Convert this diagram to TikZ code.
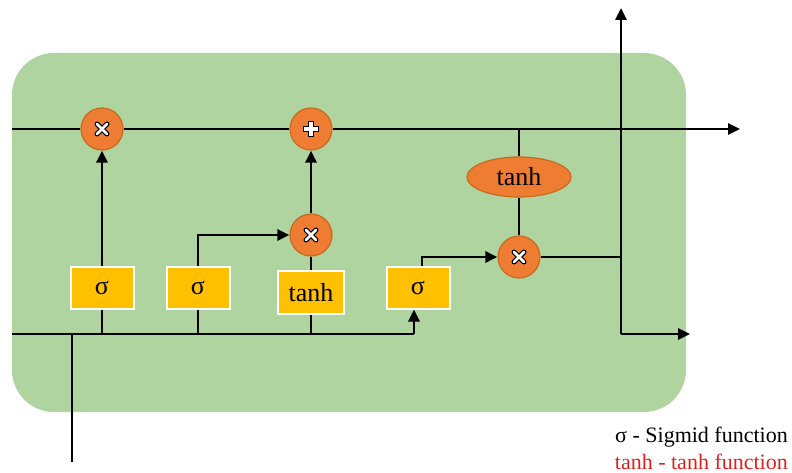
\documentclass[tikz,border=0pt]{standalone}
\usepackage{fontspec}
\setmainfont{Liberation Serif}
\usetikzlibrary{arrows.meta,shapes.geometric}
\definecolor{cellgreen}{HTML}{B0D4A0}
\definecolor{oporange}{HTML}{EE7D33}
\definecolor{opborder}{HTML}{C8691E}
\definecolor{gateyellow}{HTML}{FFC000}
\definecolor{legendred}{HTML}{E0201E}
\tikzset{
  wire/.style={line width=2.8pt,black},
  arr/.style={wire,-{Triangle[length=12pt,width=11pt]}},
  gatebox/.style={draw=white,line width=2pt,fill=gateyellow,minimum width=63pt,minimum height=42pt,inner sep=0pt,font=\fontsize{26}{28}\selectfont},
  opcirc/.style={circle,fill=oporange,draw=opborder,line width=1.2pt,minimum size=42pt,inner sep=0pt},
  opell/.style={ellipse,fill=oporange,draw=opborder,line width=1.2pt,minimum width=104pt,minimum height=40pt,inner sep=0pt,font=\fontsize{26}{28}\selectfont},
  legend/.style={anchor=east,inner sep=0pt,font=\fontsize{22}{24}\selectfont}
}
\newcommand{\timesmark}[1]{%
  \draw[black,line width=5pt,line cap=round] ([shift={(-5,-5)}]#1.center) -- ([shift={(5,5)}]#1.center) ([shift={(-5,5)}]#1.center) -- ([shift={(5,-5)}]#1.center);
  \draw[white,line width=2.8pt,line cap=round] ([shift={(-5,-5)}]#1.center) -- ([shift={(5,5)}]#1.center) ([shift={(-5,5)}]#1.center) -- ([shift={(5,-5)}]#1.center);}
\newcommand{\plusmark}[1]{%
  \draw[black,line width=5.4pt] ([shift={(-8,0)}]#1.center) -- ([shift={(8,0)}]#1.center) ([shift={(0,-8)}]#1.center) -- ([shift={(0,8)}]#1.center);
  \draw[white,line width=3.2pt] ([shift={(-6.9,0)}]#1.center) -- ([shift={(6.9,0)}]#1.center) ([shift={(0,-6.9)}]#1.center) -- ([shift={(0,6.9)}]#1.center);}
\begin{document}
\begin{tikzpicture}[x=1pt,y=-1pt]
\useasboundingbox (0,0) rectangle (792,473);
\fill[cellgreen,rounded corners=42pt] (12,53) rectangle (686,412);

% coordinates
\coordinate (topin) at (12,129);
\coordinate (topout) at (740,129);
\coordinate (botin) at (12,334);
\coordinate (xin) at (72,462);
\coordinate (hjoin) at (621,334);
\coordinate (htop) at (621,8);
\coordinate (hout) at (690,334);

% nodes
\node[gatebox] (s1) at (102,287.5) {σ};
\node[gatebox] (s2) at (198,287.5) {σ};
\node[gatebox,minimum width=66pt,minimum height=43pt] (t1) at (311,292.5) {tanh};
\node[gatebox] (s4) at (418,287.5) {σ};
\node[opcirc] (m1) at (102,129) {};
\node[opcirc] (a1) at (311,129) {};
\node[opcirc] (m2) at (311,235) {};
\node[opcirc] (m3) at (519,257) {};
\node[opell] (th) at (519,177) {tanh};

% wires
\draw[wire] (topin) -- (m1.west);
\draw[wire] (m1.east) -- (a1.west);
\draw[arr] (a1.east) -- (topout);
\draw[wire] (xin) -- (xin |- botin);
\draw[wire] (botin) -- ([xshift=-4pt]s4.south |- botin);
\draw[arr] ([xshift=-4pt]s4.south |- botin) -- ([xshift=-4pt]s4.south);
\draw[wire] (s1.south) -- (s1.south |- botin);
\draw[wire] (s2.south) -- (s2.south |- botin);
\draw[wire] (t1.south) -- (t1.south |- botin);
\draw[arr] (s1.north) -- (m1.south);
\draw[arr] (s2.north) |- (m2.west);
\draw[wire] (t1.north) -- (m2.south);
\draw[arr] (m2.north) -- (a1.south);
\draw[arr] ([xshift=4pt]s4.north) |- (m3.west);
\draw[wire] (th.north) -- (th.north |- topin);
\draw[wire] (th.south) -- (m3.north);
\draw[wire] (m3.east) -- (m3.east -| hjoin);
\draw[arr] (hjoin) -- (htop);
\draw[arr] (hjoin) -- (hout);

% operator marks
\timesmark{m1}
\plusmark{a1}
\timesmark{m2}
\timesmark{m3}

% legend
\node[legend] (l1) at (788,437) {σ - Sigmid function};
\node[legend,text=legendred] (l2) at (788,462) {tanh - tanh function};
\end{tikzpicture}
\end{document}
